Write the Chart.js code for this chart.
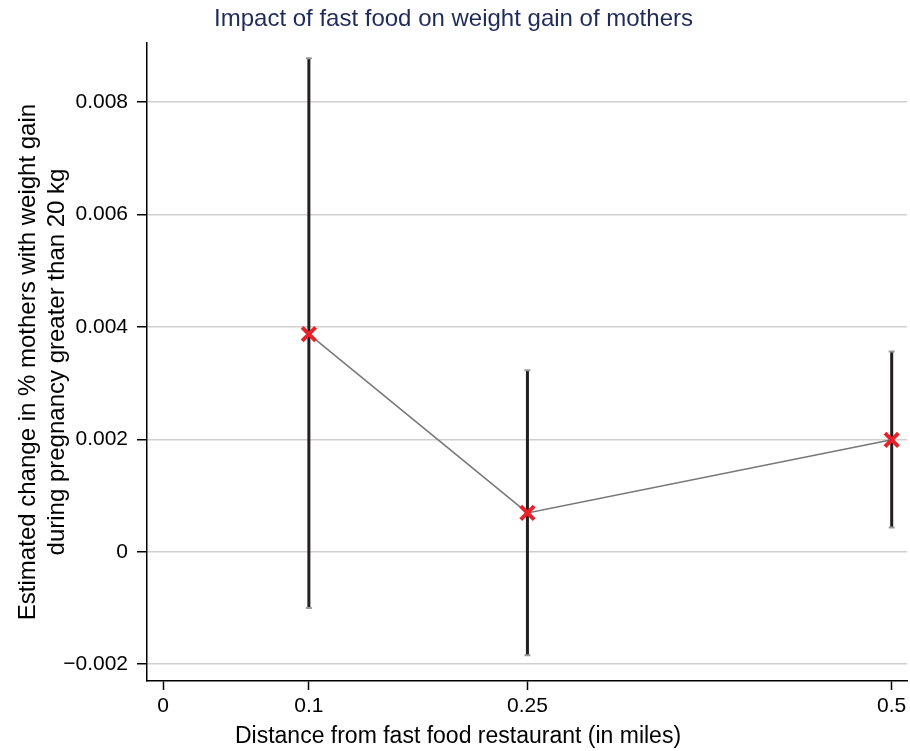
<!DOCTYPE html>
<html>
<head>
<meta charset="utf-8">
<title>Impact of fast food on weight gain of mothers</title>
<script src="https://cdn.jsdelivr.net/npm/chart.js@4.4.1/dist/chart.umd.min.js"></script>
<style>
  body { margin: 0; background: #fff; }
  #wrap { width: 910px; height: 751px; position: relative; }
</style>
</head>
<body>
<div id="wrap"><canvas id="myChart"></canvas></div>
<script>
// distances (miles) and estimates with 95% CI
const distances = [0.1, 0.25, 0.5];
const estimates = [0.00387, 0.00069, 0.00199];
const lowerCI = [-0.00100, -0.00184, 0.00043];
const upperCI = [0.00878, 0.00323, 0.00356];

const xTicks = [0, 0.1, 0.25, 0.5];
const xTickLabels = ["0", "0.1", "0.25", "0.5"];
const yTicks = [-0.002, 0, 0.002, 0.004, 0.006, 0.008];

const chartTitle = "Impact of fast food on weight gain of mothers";
const xTitle = "Distance from fast food restaurant (in miles)";
const yTitle = ["Estimated change in % mothers with weight gain", "during pregnancy greater than 20 kg"];

const fontFamily = "'Liberation Sans', Arial, sans-serif";

const yLabel = (v) => {
  if (Math.abs(v) < 1e-12) return "0";
  if (v < 0) return "\u2212" + Math.abs(v).toFixed(3);
  return v.toFixed(3);
};

// vertical CI bars with small caps
const errorBars = {
  id: "errorBars",
  beforeDatasetsDraw(chart) {
    const ctx = chart.ctx;
    const x = chart.scales.x;
    const y = chart.scales.y;
    ctx.save();
    distances.forEach((d, i) => {
      const px = x.getPixelForValue(d);
      const top = y.getPixelForValue(upperCI[i]);
      const bot = y.getPixelForValue(lowerCI[i]);
      ctx.strokeStyle = "#231f20";
      ctx.lineWidth = 3;
      ctx.beginPath();
      ctx.moveTo(px, top);
      ctx.lineTo(px, bot);
      ctx.stroke();
      ctx.strokeStyle = "#9a9a9a";
      ctx.lineWidth = 2;
      ctx.beginPath();
      ctx.moveTo(px - 3, top);
      ctx.lineTo(px + 3, top);
      ctx.moveTo(px - 3, bot);
      ctx.lineTo(px + 3, bot);
      ctx.stroke();
    });
    ctx.restore();
  }
};

// x axis title (sits left of the plot centre in the original)
const xAxisTitle = {
  id: "xAxisTitle",
  afterDraw(chart) {
    const ctx = chart.ctx;
    ctx.save();
    ctx.font = "23px " + fontFamily;
    ctx.fillStyle = "#000";
    ctx.textAlign = "center";
    ctx.textBaseline = "middle";
    ctx.fillText(xTitle, 458, 737);
    ctx.restore();
  }
};

const ctx = document.getElementById("myChart").getContext("2d");
const myChart = new Chart(ctx, {
  type: "scatter",
  data: {
    datasets: [
      {
        label: "Estimate",
        data: distances.map((d, i) => ({ x: d, y: estimates[i] })),
        showLine: true,
        borderColor: "#777777",
        borderWidth: 1.5,
        pointStyle: "crossRot",
        pointRadius: 9.5,
        pointBorderWidth: 4,
        pointBorderColor: "#e8222a",
        pointBackgroundColor: "#e8222a",
        pointHoverRadius: 9.5,
      },
    ],
  },
  options: {
    responsive: true,
    maintainAspectRatio: false,
    animation: false,
    layout: { autoPadding: false, padding: { left: 0, right: 3, top: 0, bottom: 0 } },
    plugins: {
      legend: { display: false },
      tooltip: { enabled: false },
      title: {
        display: true,
        text: chartTitle,
        color: "#1f2b5a",
        font: { family: fontFamily, size: 24, weight: "normal" },
        padding: { top: 5, bottom: 9.2 },
      },
    },
    scales: {
      x: {
        type: "linear",
        min: -0.0111,
        max: 0.5105,
        afterBuildTicks: (scale) => {
          scale.ticks = xTicks.map((v) => ({ value: v }));
        },
        afterFit: (scale) => {
          scale.height = 70;
          scale.paddingLeft = 0;
          scale.paddingRight = 0;
        },
        ticks: {
          color: "#000",
          font: { family: fontFamily, size: 21 },
          padding: 4,
          maxRotation: 0,
          autoSkip: false,
          callback: (v) => xTickLabels[xTicks.indexOf(v)],
        },
        grid: {
          drawOnChartArea: false,
          drawTicks: true,
          tickLength: 9,
          tickColor: "#000",
          tickWidth: 1.5,
        },
        border: { display: true, color: "#000", width: 1.5 },
      },
      y: {
        type: "linear",
        min: -0.0023,
        max: 0.00905,
        afterBuildTicks: (scale) => {
          scale.ticks = yTicks.map((v) => ({ value: v }));
        },
        afterFit: (scale) => {
          scale.width = 147;
        },
        ticks: {
          color: "#000",
          font: { family: fontFamily, size: 21 },
          padding: 9,
          callback: (v) => yLabel(v),
        },
        grid: {
          color: "#d0d0d0",
          lineWidth: 1.5,
          drawTicks: true,
          tickLength: 10,
          tickColor: "#000",
          tickWidth: 1.5,
        },
        border: { display: true, color: "#000", width: 1.5 },
        title: {
          display: true,
          text: yTitle,
          color: "#000",
          font: { family: fontFamily, size: 24 },
          padding: { top: 14, bottom: 0 },
        },
      },
    },
  },
  plugins: [errorBars, xAxisTitle],
});
</script>
</body>
</html>
